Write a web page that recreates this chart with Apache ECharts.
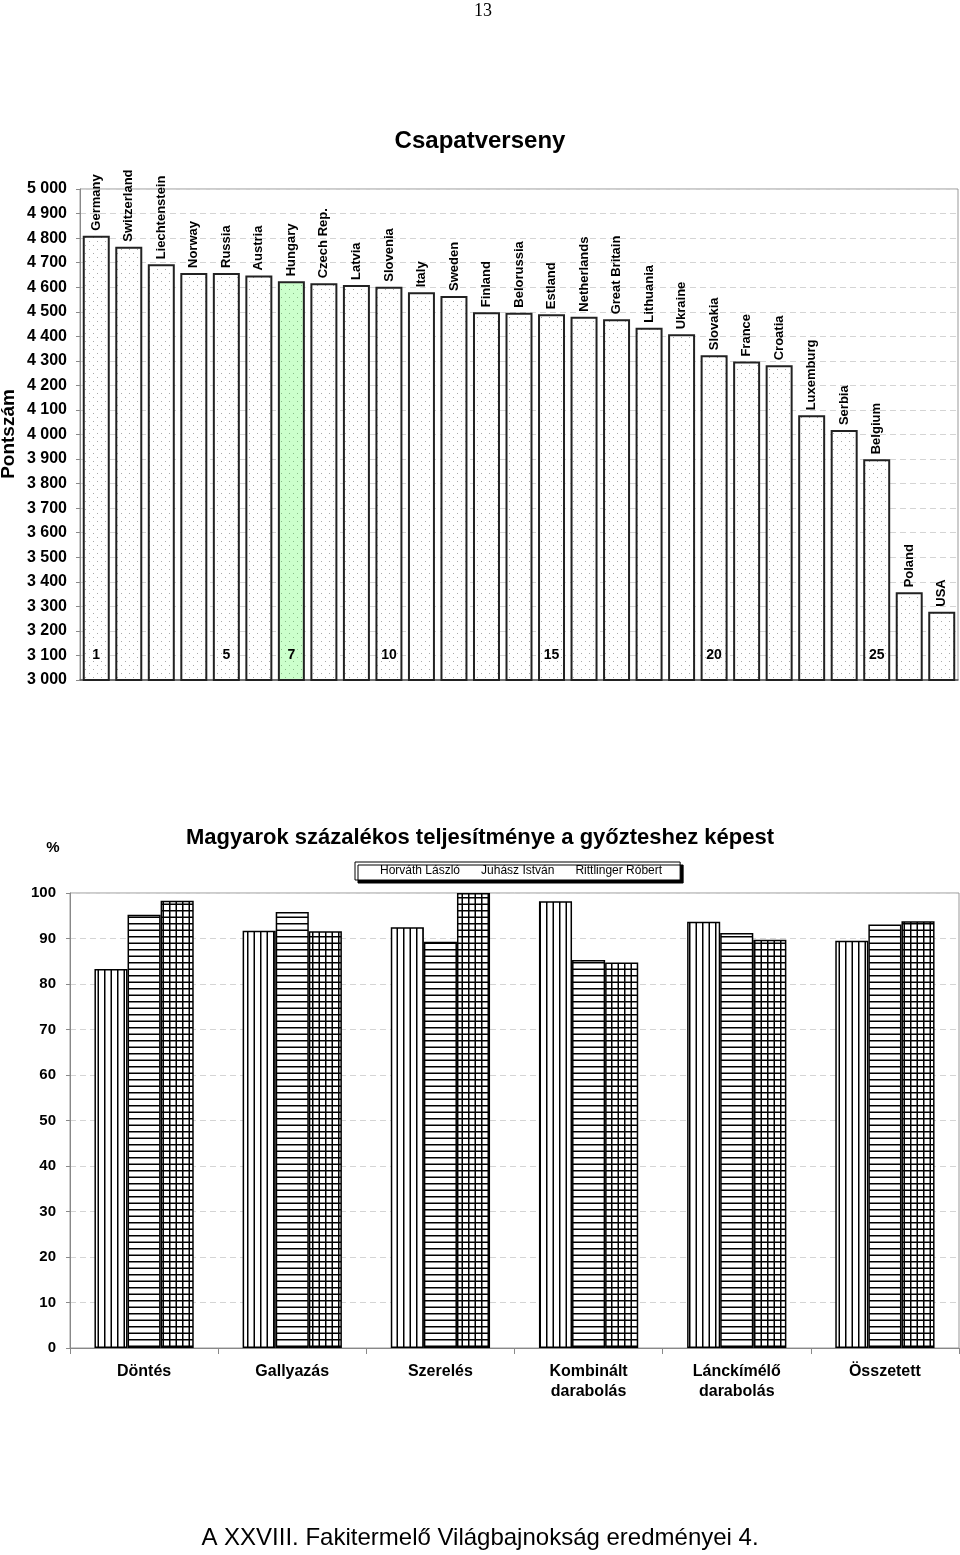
<!DOCTYPE html>
<html><head><meta charset="utf-8">
<script src="https://cdn.jsdelivr.net/npm/echarts@6/dist/echarts.min.js"></script>
<style>html,body{margin:0;padding:0;background:#fff}#c{width:960px;height:1555px}</style>
</head><body><div id="c"></div>
<script>
// ---------- DATA ----------
const countries = ['Germany','Switzerland','Liechtenstein','Norway','Russia','Austria','Hungary','Czech Rep.','Latvia','Slovenia','Italy','Sweden','Finland','Belorussia','Estland','Netherlands','Great Britain','Lithuania','Ukraine','Slovakia','France','Croatia','Luxemburg','Serbia','Belgium','Poland','USA'];
const scores = [4810,4765,4693,4658,4658,4648,4624,4616,4609,4602,4579,4564,4498,4496,4490,4480,4469,4435,4408,4323,4297,4282,4078,4018,3899,3357,3278];
const rankLabels = ['1','','','','5','','7','','','10','','','','','15','','','','','20','','','','','25','',''];
const highlightCountry = 'Hungary';

const events = ['Döntés','Gallyazás','Szerelés','Kombinált\ndarabolás','Lánckímélő\ndarabolás','Összetett'];
const competitors = ['Horváth László','Juhász István','Rittlinger Róbert'];
const horvath    = [83.3, 91.7, 92.5, 98.2, 93.7, 89.5];
const juhasz     = [95.2, 95.8, 89.3, 85.3, 91.2, 93.1];
const rittlinger = [98.3, 91.6, 100.0, 84.7, 89.7, 93.8];

// ---------- PATTERNS ----------
function dots(bg, dot){
  const c=document.createElement('canvas'); c.width=8; c.height=8;
  const g=c.getContext('2d'); g.fillStyle=bg; g.fillRect(0,0,8,8);
  g.fillStyle=dot; g.fillRect(1,1,1,1); g.fillRect(5,5,1,1); return c;
}
function lines(v, h){
  const c=document.createElement('canvas'); c.width=13; c.height=13;
  const g=c.getContext('2d'); g.fillStyle='#fff'; g.fillRect(0,0,13,13);
  g.fillStyle='#000';
  if(v){ g.fillRect(0,0,1.5,13); g.fillRect(6.5,0,1.5,13); }
  if(h){ g.fillRect(0,0,13,1.5); g.fillRect(0,6.5,13,1.5); }
  return c;
}
const dotFill = {image: dots('#ffffff','#a8a8a8'), repeat:'repeat'};
const greenFill = {image: dots('#ccffcc','#88bb88'), repeat:'repeat'};
const patV = {image: lines(true,false), repeat:'repeat'};
const patH = {image: lines(false,true), repeat:'repeat'};
const patG = {image: lines(true,true), repeat:'repeat'};

const FONT = 'Arial, "Liberation Sans", sans-serif';
const thousands = v => String(v).replace(/\B(?=(\d{3})+$)/g,' ');

const chart = echarts.init(document.getElementById('c'), null, {renderer:'canvas'});
chart.setOption({
  animation:false,
  backgroundColor:'#fff',
  textStyle:{fontFamily:FONT},
  title:[
    {text:'Csapatverseny', left:'center', top:129, padding:0,
     textStyle:{fontFamily:FONT, fontSize:24, fontWeight:'bold', color:'#000'}},
    {text:'Magyarok százalékos teljesítménye a győzteshez képest', left:'center', top:827, padding:0,
     textStyle:{fontFamily:FONT, fontSize:22, fontWeight:'bold', color:'#000'}}
  ],
  graphic:[
    {type:'text', x:483, y:11, style:{text:'13', font:'18px "Liberation Serif", "Times New Roman", serif', fill:'#000', textAlign:'center', textVerticalAlign:'middle'}},
    {type:'text', x:9, y:434, rotation:Math.PI/2, style:{text:'Pontszám', font:'bold 19px '+FONT, fill:'#000', textAlign:'center', textVerticalAlign:'middle'}},
    {type:'text', x:53, y:848, style:{text:'%', font:'bold 15px '+FONT, fill:'#000', textAlign:'center', textVerticalAlign:'middle'}},
    {type:'text', x:480, y:1538, style:{text:'A XXVIII. Fakitermelő Világbajnokság eredményei 4.', font:'24px '+FONT, fill:'#000', textAlign:'center', textVerticalAlign:'middle'}}
  ],
  legend:{
    data:competitors, left:355, top:862, itemWidth:0, itemHeight:0, itemGap:15,
    padding:[3,18,3,19], backgroundColor:'#fff', borderColor:'#000', borderWidth:1,
    shadowColor:'#000', shadowBlur:0, shadowOffsetX:3, shadowOffsetY:3,
    textStyle:{fontFamily:FONT, fontSize:12, color:'#000'}
  },
  grid:[
    {left:80, top:189, width:878, height:491, show:true, borderColor:'#999', borderWidth:1, backgroundColor:'transparent'},
    {left:70, top:893, width:889, height:455, show:true, borderColor:'#999', borderWidth:1, backgroundColor:'transparent'}
  ],
  xAxis:[
    {type:'category', gridIndex:0, data:countries,
     axisLine:{lineStyle:{color:'#555', width:1.5}}, axisTick:{show:false}, axisLabel:{show:false}},
    {type:'category', gridIndex:1, data:events,
     axisLine:{lineStyle:{color:'#888'}}, axisTick:{show:true, length:6, lineStyle:{color:'#888'}},
     axisLabel:{fontFamily:FONT, fontSize:16, fontWeight:'bold', color:'#000', margin:14, lineHeight:20}}
  ],
  yAxis:[
    {type:'value', gridIndex:0, min:3000, max:5000, interval:100,
     axisLine:{show:true, lineStyle:{color:'#888'}}, axisTick:{show:true, length:4, lineStyle:{color:'#888'}},
     splitLine:{lineStyle:{color:'#d4d4d4', type:[6,4]}},
     axisLabel:{formatter:thousands, fontFamily:FONT, fontSize:16, fontWeight:'bold', color:'#000', margin:13}},
    {type:'value', gridIndex:1, min:0, max:100, interval:10,
     axisLine:{show:true, lineStyle:{color:'#888'}}, axisTick:{show:true, length:4, lineStyle:{color:'#888'}},
     splitLine:{lineStyle:{color:'#d4d4d4', type:[6,4]}},
     axisLabel:{fontFamily:FONT, fontSize:15, fontWeight:'bold', color:'#000', margin:14}}
  ],
  series:[
    {type:'bar', name:'Pontszám', xAxisIndex:0, yAxisIndex:0, barCategoryGap:'17%', barGap:'-100%',
     data:scores.map((v,i)=> countries[i]===highlightCountry
        ? {value:v, itemStyle:{color:greenFill}} : v),
     itemStyle:{color:dotFill, borderColor:'#222', borderWidth:2},
     label:{show:true, position:'top', rotate:90, align:'left', verticalAlign:'middle', distance:5,
            formatter:'{b}', fontFamily:FONT, fontSize:13, fontWeight:'bold', color:'#000'}},
    {type:'bar', name:'rank', xAxisIndex:0, yAxisIndex:0, barCategoryGap:'17%', barGap:'-100%', silent:true,
     data:scores, itemStyle:{color:'rgba(0,0,0,0)', borderWidth:0},
     label:{show:true, position:'insideBottom', distance:18, formatter:p=>rankLabels[p.dataIndex],
            fontFamily:FONT, fontSize:14, fontWeight:'bold', color:'#000'}},
    {type:'bar', name:competitors[0], xAxisIndex:1, yAxisIndex:1, barGap:'0%', barCategoryGap:'33%',
     data:horvath, itemStyle:{color:patV, borderColor:'#000', borderWidth:1.5}},
    {type:'bar', name:competitors[1], xAxisIndex:1, yAxisIndex:1, barGap:'0%', barCategoryGap:'33%',
     data:juhasz, itemStyle:{color:patH, borderColor:'#000', borderWidth:1.5}},
    {type:'bar', name:competitors[2], xAxisIndex:1, yAxisIndex:1, barGap:'0%', barCategoryGap:'33%',
     data:rittlinger, itemStyle:{color:patG, borderColor:'#000', borderWidth:1.5}}
  ]
});
</script></body></html>
